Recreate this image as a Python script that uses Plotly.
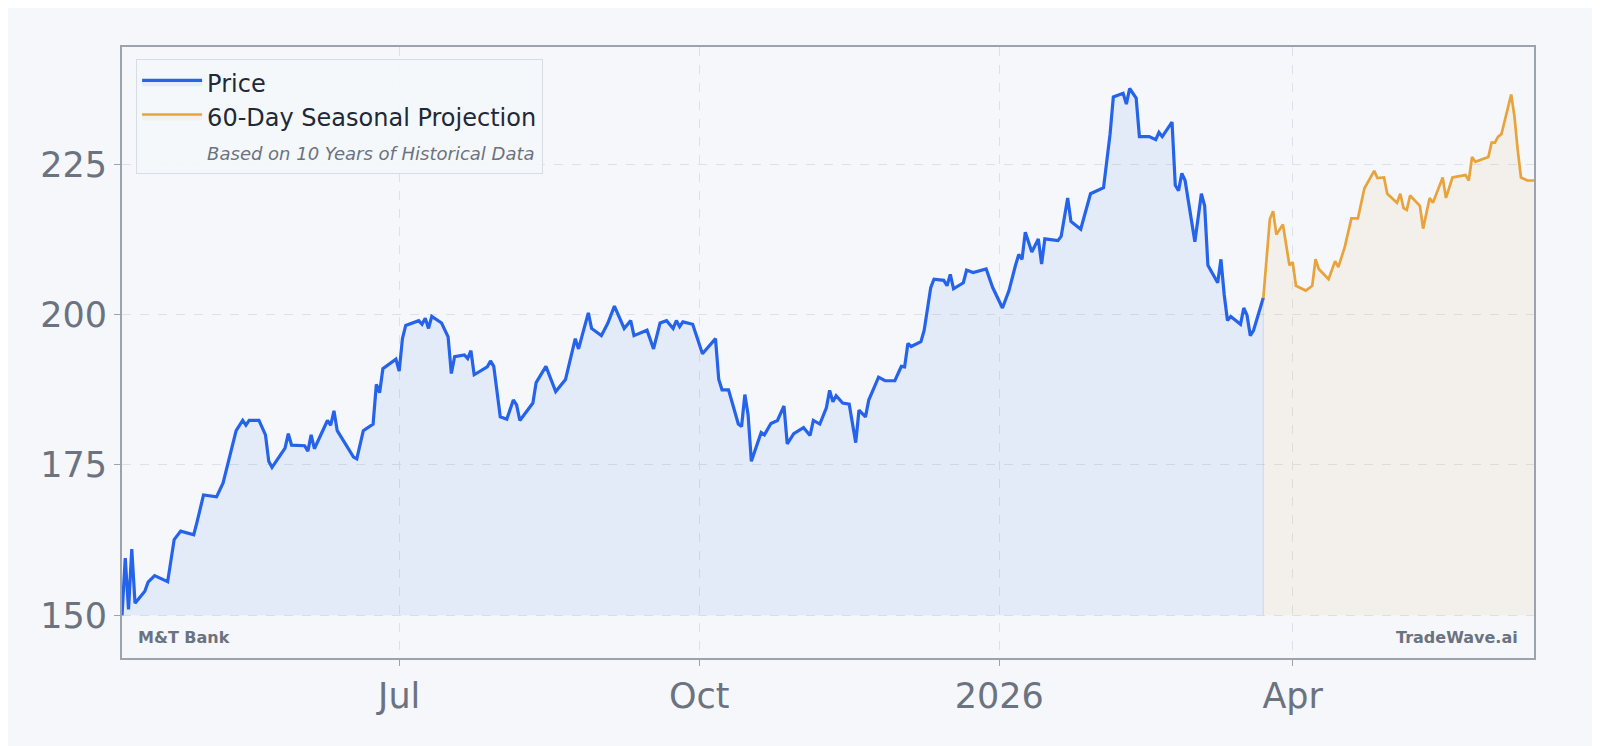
import plotly.graph_objects as go
import pandas as pd

start = pd.Timestamp("2025-04-07")
price_day = [0,1,2,3,4,7,8,10,14,16,18,22,23,25,29,31,35,37,38,39,42,44,45,46,50,51,52,56,57,58,59,61,63,64,65,66,71,72,74,77,78,79,80,84,85,86,87,91,92,93,94,95,98,100,101,102,105,106,107,108,112,113,114,116,118,120,121,122,126,127,130,133,136,139,140,143,144,147,149,151,154,156,157,161,163,165,167,169,170,171,172,175,178,182,183,184,186,189,190,191,192,193,196,197,199,201,203,204,206,209,211,212,214,216,217,218,219,221,223,225,226,228,229,232,234,237,239,240,241,242,245,246,248,249,252,253,254,255,258,259,261,265,267,270,272,274,275,276,277,279,281,282,283,287,288,290,291,294,297,301,303,304,307,308,309,311,312,315,317,318,319,322,323,324,325,326,329,331,332,333,336,337,338,339,340,343,344,345,346,347,350]
price_val = [150,159.5,151,161,152,154,155.5,156.6,155.6,162.6,164,163.4,165.5,170,169.7,172,180.7,182.4,181.6,182.4,182.4,180,175.6,174.6,177.8,180.2,178.3,178.2,177.3,180,177.7,180,182.4,181.6,184,180.7,176.3,176,180.7,181.8,188.4,187,191,192.6,190.6,196,198.2,199,198.4,199.4,197.7,199.7,198.6,196.3,190.2,193,193.3,192.7,194,190,191.3,192.3,191.4,183,182.6,185.8,185,182.4,185.3,188.7,191.4,187.2,189.2,196,194.3,200.3,197.7,196.5,198.6,201.4,197.7,199,196.5,197.4,194.3,198.6,199,197.7,199,198,198.8,198.4,193.5,196,189.2,187.5,187.5,181.8,181.4,186.7,183.3,175.6,180.4,180,181.9,182.4,184.8,178.5,180.2,181.2,179.9,182.4,181.8,184.5,187.4,185.5,186.5,185.3,185.1,178.7,184.1,183,185.8,189.6,189,189,191.4,191.3,195.2,194.7,195.5,197.4,204.5,205.9,205.7,204.8,206.7,204.3,205.3,207.4,207,207.6,204.5,201.1,204,208.2,210,209.2,213.7,210.4,212.6,208.4,212.6,212.3,213,219.4,215.5,214.2,220.1,221.1,230,236.2,236.8,235,237.6,236,229.6,229.6,229.1,230.3,229.6,232,221.5,220.6,223.5,222.3,212.1,220.1,218.1,208.2,205.3,209.2,203.3,199,199.7,198.4,201.1,199.9,196.5,197.4,202.8]
proj_day = [350,351,352,353,354,356,358,359,360,363,365,366,367,370,372,373,375,377,379,381,384,385,387,388,391,392,393,394,395,398,399,401,402,405,406,408,412,413,414,415,419,420,421,422,423,426,427,428,429,431,433]
proj_val = [202.8,208.7,215.9,217.2,213.3,215,208.2,208.7,204.8,204,204.8,209.2,207.6,205.9,208.9,207.9,211.3,216,216,221,223.9,222.7,222.8,220.1,218.6,220.1,217.7,217.4,219.8,218.1,214.3,219.4,218.6,222.8,219.4,222.8,223.2,222.3,226.2,225.4,226.2,228.6,228.6,229.6,230,236.6,233,227.4,222.8,222.3,222.3]
tick_dates = ["2025-07-01", "2025-10-01", "2026-01-01", "2026-04-01"]
tick_text = ["Jul", "Oct", "2026", "Apr"]
base_level = 150

px = [start + pd.Timedelta(days=d) for d in price_day]
pj = [start + pd.Timedelta(days=d) for d in proj_day]

fig = go.Figure()
fig.add_trace(go.Scatter(x=px, y=[base_level]*len(px), mode="lines", line=dict(width=0), showlegend=False, hoverinfo="skip"))
fig.add_trace(go.Scatter(x=px, y=price_val, mode="lines", name="Price", line=dict(color="#2563eb", width=3.2),
                         fill="tonexty", fillcolor="rgba(37,99,235,0.08)"))
fig.add_trace(go.Scatter(x=pj, y=[base_level]*len(pj), mode="lines", line=dict(width=0), showlegend=False, hoverinfo="skip"))
fig.add_trace(go.Scatter(x=pj, y=proj_val, mode="lines", name="60-Day Seasonal Projection", line=dict(color="#e8a33a", width=2.7),
                         fill="tonexty", fillcolor="rgba(232,163,58,0.08)"))
fig.add_trace(go.Scatter(x=[None], y=[None], mode="lines", line=dict(width=0, color="rgba(0,0,0,0)"),
                         name="<i><span style='color:#6b7280;font-size:18px'>Based on 10 Years of Historical Data</span></i>"))
fig.add_shape(type="line", x0=pj[0], x1=pj[0], y0=base_level, y1=proj_val[0], line=dict(color="rgba(150,150,150,0.25)", width=1))

fig.update_layout(
    width=1600, height=746,
    paper_bgcolor="#f5f7fa", plot_bgcolor="#f5f7fa",
    margin=dict(l=114, r=74, t=39, b=96),
    font=dict(family="DejaVu Sans", color="#6b7280"),
    showlegend=True,
    legend=dict(x=0.01, y=0.98, xanchor="left", yanchor="top", bgcolor="rgba(245,247,250,0.9)", traceorder="normal",
                bordercolor="#d8dce3", borderwidth=1, font=dict(size=24, color="#1f2937"), tracegroupgap=0,
                itemwidth=60, entrywidth=0),
    xaxis=dict(range=[start, start + pd.Timedelta(days=433)], tickvals=tick_dates, ticktext=tick_text,
               tickfont=dict(size=35, color="#6b7280"), showgrid=True, gridcolor="#dde1e7", griddash="dash",
               showline=True, linecolor="#9ca3af", linewidth=2, mirror=True, ticks="outside", ticklen=6, tickcolor="#9ca3af", zeroline=False),
    yaxis=dict(range=[142.9, 244.5], tickvals=[150, 175, 200, 225], tickfont=dict(size=35, color="#6b7280"),
               showgrid=True, gridcolor="#dde1e7", griddash="dash",
               showline=True, linecolor="#9ca3af", linewidth=2, mirror=True, ticks="outside", ticklen=6, tickcolor="#9ca3af", zeroline=False),
    annotations=[
        dict(text="<b>M&T Bank</b>", xref="paper", yref="paper", x=0.01, y=0.015, xanchor="left", yanchor="bottom",
             showarrow=False, font=dict(size=16, color="#6b7280")),
        dict(text="<b>TradeWave.ai</b>", xref="paper", yref="paper", x=0.99, y=0.015, xanchor="right", yanchor="bottom",
             showarrow=False, font=dict(size=16, color="#6b7280")),
    ],
)
fig.write_html("out.html")
